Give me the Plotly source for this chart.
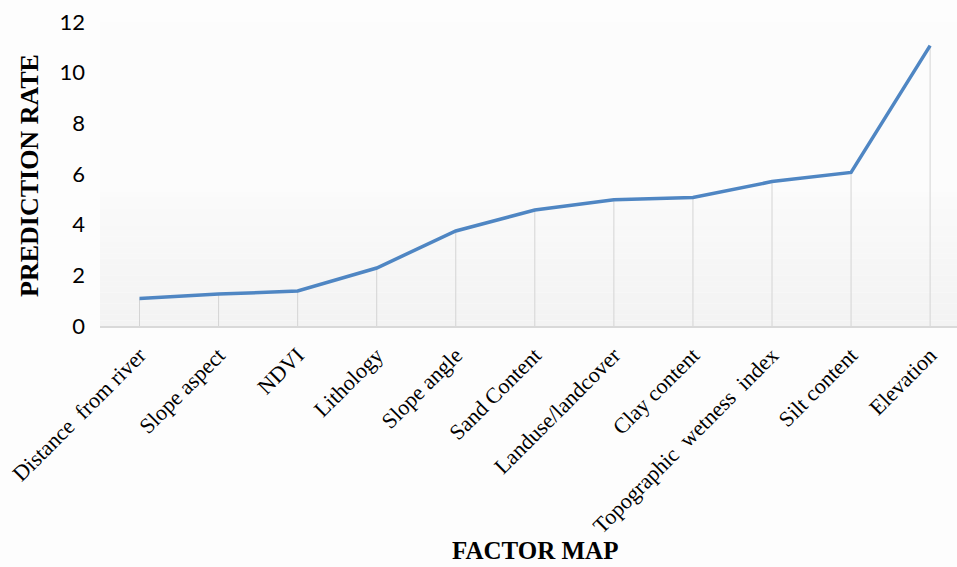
import plotly.graph_objects as go

# Factor maps and their prediction rates
factors = [
    "Distance  from river", "Slope aspect", "NDVI", "Lithology", "Slope angle",
    "Sand Content", "Landuse/landcover", "Clay content",
    "Topographic  wetness  index", "Silt content", "Elevation",
]
prediction_rate = [1.09, 1.26, 1.38, 2.29, 3.75, 4.58, 4.98, 5.07, 5.70, 6.06, 11.07]
y_ticks = [0, 2, 4, 6, 8, 10, 12]

idx = list(range(len(factors)))

fig = go.Figure()

# Drop lines from each point down to the category axis
drop_x, drop_y = [], []
for i, v in zip(idx, prediction_rate):
    drop_x += [i, i, None]
    drop_y += [0, v, None]
fig.add_trace(go.Scatter(
    x=drop_x, y=drop_y, mode="lines",
    line=dict(color="#d4d4d4", width=1), hoverinfo="skip", showlegend=False,
))

fig.add_trace(go.Scatter(
    x=idx, y=prediction_rate, mode="lines",
    line=dict(color="#4f86c3", width=3.5), showlegend=False,
))

# Soft grey shading in the lower part of the plot area
n_bands = 24
top = 5.3
for k in range(n_bands):
    y0 = top * k / n_bands
    y1 = top * (k + 1) / n_bands
    g = int(243 + (251 - 243) * k / (n_bands - 1))
    fig.add_shape(type="rect", xref="paper", yref="y", x0=0, x1=1, y0=y0, y1=y1,
                  fillcolor=f"rgb({g},{g},{g})", line=dict(width=0), layer="below")

fig.update_layout(
    width=957, height=567,
    margin=dict(l=100, r=0, t=22, b=241),
    paper_bgcolor="#fdfdfd",
    plot_bgcolor="#fcfcfc",
    xaxis=dict(
        range=[-0.5, 10.34],
        tickmode="array", tickvals=idx, ticktext=factors,
        tickangle=-45,
        tickfont=dict(family="Liberation Serif", size=22, color="#000000"),
        showgrid=False, zeroline=False,
        showline=True, linecolor="#d9d9d9", linewidth=1.5,
        ticks="", ticklabelstandoff=6, fixedrange=True,
    ),
    yaxis=dict(
        range=[0, 12],
        tickmode="array", tickvals=y_ticks,
        tickfont=dict(family="Lato", size=22, color="#000000"),
        showgrid=False, zeroline=False, showline=False,
        ticks="", ticklabelstandoff=14,
    ),
    annotations=[
        dict(text="<b>PREDICTION RATE</b>", xref="paper", yref="paper",
             x=(29 - 100) / 857, y=(326 - 176) / 304, xanchor="center", yanchor="middle",
             textangle=-90, showarrow=False,
             font=dict(family="Liberation Serif", size=26, color="#000000")),
        dict(text="<b>FACTOR MAP</b>", xref="paper", yref="paper",
             x=(535 - 100) / 857, y=-(566 - 326) / 304, xanchor="center", yanchor="bottom",
             showarrow=False,
             font=dict(family="Liberation Serif", size=25, color="#000000")),
    ],
)

fig.write_html("out.html")
